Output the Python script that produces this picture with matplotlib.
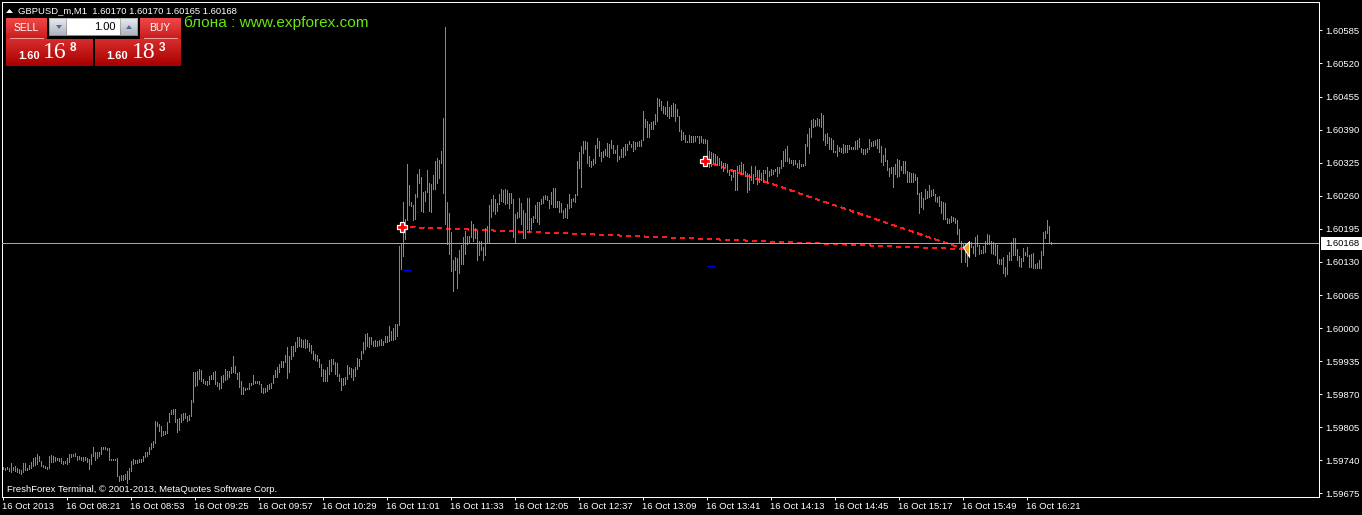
import numpy as np
import matplotlib
matplotlib.use("Agg")
import matplotlib.pyplot as plt
from matplotlib.patches import Rectangle, Polygon

# Minute bars as (high, low), in points above 1.59000
early_bars = [(727,723),(726,722),(728,723),(725,719),(735,718),(728,722),(730,720),(726,718),(724,716),(722,714),
(735,718),(734,722),(726,722),(731,723),(736,726),(744,730),(746,731),(752,733),(749,739),(739,730),
(731,728),(730,726),(728,723),(749,726),(750,736),(748,737),(746,739),(744,741),(744,739),(744,735),
(739,733),(738,734),(744,733),(752,736),(752,747),(752,748),(754,749),(749,741),(748,743),(746,741),
(746,739),(747,741),(744,736),(743,723),(752,733),(767,749),(757,741),(756,744),(757,748),(767,752),
(767,762),(766,762),(764,761),(764,741),(743,740),(742,740),(743,740),(744,710),(710,699),(711,702),
(711,702),(713,703),(720,695),(726,703),(738,720),(743,733),(741,735),(741,735),(743,736),(743,737),
(749,739),(756,746),(756,749),(766,752),(774,762),(779,766),(817,775),(816,808),(811,798),(808,788),
(798,790),(798,792),(815,794),(833,815),(840,831),(842,831),(842,815),(821,796),(824,800),(831,815),
(833,820),(833,824),(828,818),(829,820),(859,828),(914,855),(914,887),(916,888),(919,900),(917,897),
(900,892),(897,890),(897,888),(906,890),(908,900),(914,900),(916,890),(895,887),(893,881),(906,883),
(908,895),(919,898),(916,900),(916,903),(923,912),(946,913),(926,912),(912,900),(913,885),(897,870),
(885,870),(883,879),(883,880),(893,881),(893,888),(908,890),(897,892),(897,892),(897,890),(890,874),
(883,872),(883,875),(888,877),(890,880),(892,883),(908,892),(918,903),(923,903),(929,913),(936,923),
(936,923),(947,933),(963,901),(946,913),(965,939),(965,946),(972,955),(982,962),(982,965),(978,962),
(977,962),(978,960),(977,962),(971,955),(967,952),(955,939),(949,938),(947,936),(940,923),(929,905),
(919,897),(918,897),(923,897),(938,910),(939,916),(939,929),(933,910),(931,906),(910,897),(901,879),
(901,888),(903,890),(927,900),(923,910),(921,903),(919,898),(923,906),(942,919),(940,926),(955,939),
(972,952),(988,959),(991,965),(982,962),(982,969),(975,964),(977,964),(975,965),(977,967),(978,967),
(975,967),(984,972),(984,973),(1005,975),(995,977),(1001,977),(1008,978),(1008,985)]

middle_bars = [(1162,1007),(1165,1116),(1247,1141),(1214,1175),(1322,1213),(1281,1241),(1248,1240),(1241,1213),(1263,1215),(1302,1258),
(1312,1286),(1297,1230),(1268,1228),(1270,1249),(1310,1268),(1285,1230),(1283,1228),(1300,1273),(1328,1273),(1335,1285),
(1330,1294),(1348,1324),(1412,1265),(1591,1204),(1247,1165),(1226,1145),(1188,1112),(1133,1073),(1140,1114),(1138,1078),
(1153,1108),(1163,1126),(1179,1126),(1190,1145),(1181,1165),(1181,1167),(1210,1179),(1204,1171),(1196,1177),(1190,1133),
(1171,1143),(1171,1153),(1159,1133),(1196,1143),(1200,1167),(1241,1167),(1253,1218),(1261,1230),(1253,1224),(1245,1230),
(1263,1243),(1273,1249),(1271,1248),(1273,1243),(1271,1245),(1265,1236),(1265,1245),(1253,1179),(1224,1167),(1228,1216),
(1255,1218),(1245,1204),(1232,1177),(1226,1177),(1255,1194),(1255,1190),(1216,1194),(1220,1208),(1241,1216),(1247,1208),
(1247,1204),(1253,1243),(1259,1245),(1261,1253),(1259,1251),(1251,1236),(1267,1243),(1275,1238),(1275,1238),(1249,1238),
(1249,1228),(1245,1228),(1232,1216),(1236,1218),(1243,1216),(1263,1236),(1253,1238),(1255,1249),(1263,1247),(1328,1261),
(1346,1314),(1357,1277),(1367,1344),(1367,1351),(1365,1324),(1338,1318),(1328,1316),(1332,1320),(1359,1324),(1373,1353),
(1367,1338),(1346,1328),(1348,1336),(1352,1340),(1363,1338),(1361,1336),(1369,1353),(1359,1344),(1350,1344),(1359,1328),
(1338,1332),(1352,1336),(1355,1336),(1361,1340),(1361,1350),(1367,1361),(1361,1355),(1367,1348),(1365,1352),(1365,1357),
(1367,1357),(1369,1357),(1426,1369),(1410,1395),(1407,1375),(1401,1375),(1405,1391),(1407,1391),(1420,1401),(1452,1407),
(1450,1436),(1446,1428),(1436,1422),(1434,1420),(1446,1416),(1434,1412),(1438,1416),(1442,1416),(1440,1407),(1430,1416),
(1416,1387),(1389,1369),(1385,1371),(1379,1365),(1367,1365),(1379,1365),(1377,1365),(1377,1365),(1377,1367),(1377,1375),
(1377,1363),(1377,1365),(1371,1363),(1371,1363),(1369,1318),(1348,1316),(1346,1318),(1344,1324),(1342,1322),(1338,1320),
(1334,1320)]

late_bars = [(1328,1314),(1324,1308),(1324,1316),(1322,1306),(1310,1300),(1300,1292),(1310,1296),(1310,1271),(1318,1271),(1320,1308),
(1326,1302),(1322,1302),(1308,1298),(1304,1267),(1302,1271),(1318,1292),(1302,1286),(1318,1298),(1310,1284),(1310,1288),
(1304,1292),(1310,1288),(1310,1304),(1316,1288),(1308,1298),(1312,1300),(1310,1302),(1312,1308),(1316,1298),(1316,1304),
(1330,1314),(1349,1318),(1351,1328),(1357,1328),(1335,1324),(1331,1324),(1330,1320),(1330,1322),(1324,1316),(1330,1314),
(1322,1318),(1322,1318),(1361,1320),(1381,1357),(1394,1345),(1408,1375),(1410,1396),(1408,1398),(1412,1400),(1410,1398),
(1422,1396),(1418,1369),(1381,1359),(1383,1363),(1375,1351),(1373,1351),(1369,1347),(1349,1347),(1359,1339),(1355,1349),
(1353,1347),(1361,1345),(1359,1347),(1359,1347),(1359,1351),(1355,1351),(1355,1351),(1367,1351),(1369,1351),(1373,1355),
(1353,1347),(1351,1343),(1351,1343),(1353,1347),(1371,1351),(1365,1357),(1367,1357),(1369,1359),(1371,1353),(1371,1347),
(1357,1326),(1341,1320),(1353,1328),(1330,1310),(1314,1298),(1316,1304),(1316,1278),(1322,1302),(1333,1296),(1330,1298),
(1318,1310),(1328,1304),(1328,1304),(1308,1288),(1306,1288),(1304,1288),(1304,1288),(1302,1292),(1296,1263),(1265,1227),
(1267,1237),(1255,1235),(1273,1253),(1269,1255),(1282,1257),(1271,1259),(1273,1261),(1263,1249),(1257,1247),(1259,1239),
(1249,1227),(1247,1215),(1245,1215),(1217,1206),(1215,1206),(1221,1208),(1219,1210),(1217,1206),(1213,1184),(1194,1168),
(1172,1129),(1168,1159),(1166,1129),(1164,1123),(1172,1139),(1170,1160),(1162,1147),(1180,1141),(1182,1162),(1164,1145),
(1153,1147),(1162,1147),(1172,1149),(1184,1166),(1182,1166),(1172,1147),(1170,1145),(1166,1143),(1164,1127),(1135,1125),
(1135,1125),(1139,1109),(1121,1103),(1143,1107),(1149,1133),(1170,1133),(1178,1143),(1178,1143),(1155,1133),(1141,1123),
(1137,1121),(1157,1131),(1149,1143),(1159,1141),(1143,1121),(1145,1121),(1147,1119),(1125,1119),(1127,1119),(1133,1119),
(1151,1119),(1188,1143),(1190,1178),(1212,1186),(1200,1168),(1170,1165)]

price_ticks = ["1.60585","1.60520","1.60455","1.60390","1.60325","1.60260","1.60195","1.60130",
               "1.60065","1.60000","1.59935","1.59870","1.59805","1.59740","1.59675"]
time_labels = ["16 Oct 2013","16 Oct 08:21","16 Oct 08:53","16 Oct 09:25","16 Oct 09:57","16 Oct 10:29",
               "16 Oct 11:01","16 Oct 11:33","16 Oct 12:05","16 Oct 12:37","16 Oct 13:09","16 Oct 13:41",
               "16 Oct 14:13","16 Oct 14:45","16 Oct 15:17","16 Oct 15:49","16 Oct 16:21"]
bid_price = 1.60168
# Orders: open minute, open price, stop price, with a shared closing point
order_minutes = [199.5, 351]
order_prices = [1.60199, 1.60328]
stop_minutes = [201, 353]
stop_prices = [1.60114, 1.60122]
close_minute = 481
close_price = 1.60155

all_bars = early_bars + middle_bars + late_bars
highs = np.array([b[0] for b in all_bars]) / 1e5 + 1.59
lows = np.array([b[1] for b in all_bars]) / 1e5 + 1.59
minutes = np.arange(len(all_bars))

W, H = 1362, 515
FONT = "Liberation Sans"
TICK = 6.8
fig = plt.figure(figsize=(W / 100, H / 100), dpi=100, facecolor="black")
L, R, T, B = 1.5, 1318.5, 1.5, 496.5
ax = fig.add_axes([L / W, 1 - B / H, (R - L) / W, (B - T) / H], facecolor="black")
ax.set_xlim(-0.5, 658)
ax.set_ylim(1.596691, 1.606418)
for s in ax.spines.values():
    s.set_color("white")
    s.set_linewidth(0.72)

ax.vlines(minutes, lows, highs, color="#22d022", linewidth=0.5, antialiased=False, zorder=2)
ax.axhline(bid_price, color="#a8a8a8", linewidth=0.5, antialiased=False, zorder=3)

for m, p in zip(order_minutes, order_prices):
    ax.plot([m, close_minute], [p, close_price], color="#ff1a1a", linewidth=0.5,
            dashes=(5.8, 5.8), antialiased=False, zorder=1.5)
    ax.plot([m], [p], marker="P", ms=6.5, mfc="#ff0000", mec="white", mew=0.9, ls="none", zorder=5)
for m, p in zip(stop_minutes, stop_prices):
    ax.plot([m - 1, m + 2.5], [p, p], color="#0000ff", linewidth=0.7, solid_capstyle="butt",
            antialiased=False, zorder=4)
arrow = [(-0.4, 0.25), (0.4, 1), (0.4, -1), (-0.4, 0.25)]
ax.plot([close_minute + 0.5], [close_price], marker=arrow, ms=11, mfc="#e8a428", mec="white",
        mew=0.7, ls="none", zorder=6)

ax.yaxis.tick_right()
ax.set_yticks([float(t) for t in price_ticks])
ax.set_yticklabels(price_ticks)
ax.set_xticks(np.arange(len(time_labels)) * 32)
ax.set_xticklabels(time_labels, ha="left")
ax.tick_params(axis="y", colors="white", length=2.5, width=0.7, pad=2.5, labelsize=TICK)
ax.tick_params(axis="x", colors="white", length=2.5, width=0.7, pad=1.5, labelsize=TICK)
for lab in ax.get_xticklabels() + ax.get_yticklabels():
    lab.set_fontfamily(FONT)

# Pixel-space overlay for the terminal's interface elements
ui = fig.add_axes([0, 0, 1, 1], facecolor="none")
ui.set_xlim(0, W)
ui.set_ylim(H, 0)
ui.axis("off")


def gradient(x0, y0, x1, y1, top, bottom):
    c0 = np.array(matplotlib.colors.to_rgb(top))
    c1 = np.array(matplotlib.colors.to_rgb(bottom))
    t = np.linspace(0, 1, 32)[:, None, None]
    img = c0[None, None, :] * (1 - t) + c1[None, None, :] * t
    ui.imshow(img, extent=(x0, x1, y1, y0), aspect="auto", zorder=2, interpolation="bilinear")


gradient(6, 18, 47, 39, "#f04848", "#c81c1c")
gradient(140, 18, 181, 39, "#f04848", "#c81c1c")
gradient(6, 39, 93, 66, "#d82c2c", "#a80000")
gradient(95, 39, 181, 66, "#d82c2c", "#a80000")
ui.plot([10, 43], [38, 38], color="#f0a0a0", lw=0.7, zorder=3)
ui.plot([144, 177], [38, 38], color="#f0a0a0", lw=0.7, zorder=3)
gradient(49, 18, 138, 36, "#b8b8b8", "#8c8c8c")
ui.add_patch(Rectangle((67, 19), 53, 16, fc="white", ec="none", zorder=3))
gradient(50, 19, 66, 35, "#e4e8f0", "#b0b4c0")
gradient(121, 19, 137, 35, "#e4e8f0", "#b0b4c0")
ui.add_patch(Polygon([[56, 25], [62, 25], [59, 29]], fc="#5a6a90", ec="none", zorder=4))
ui.add_patch(Polygon([[126, 29], [132, 29], [129, 25]], fc="#5a6a90", ec="none", zorder=4))
ui.add_patch(Polygon([[6, 13], [13, 13], [9.5, 9]], fc="white", ec="none", zorder=4))

kw = dict(color="white", family=FONT, zorder=5)
ui.text(18, 10.5, "GBPUSD_m,M1  1.60170 1.60170 1.60165 1.60168", fontsize=6.8, va="center", ha="left", **kw)
ui.text(26, 28, "SELL", fontsize=7.5, va="center", ha="center", **kw)
ui.text(160, 28, "BUY", fontsize=7.5, va="center", ha="center", **kw)
ui.text(116, 27.5, "1.00", fontsize=8, va="center", ha="right", color="black", family=FONT, zorder=5)
ui.text(29, 56, "1.60", fontsize=8, fontweight="bold", va="center", ha="center", **kw)
ui.text(117, 56, "1.60", fontsize=8, fontweight="bold", va="center", ha="center", **kw)
ui.text(55, 52, "16", fontsize=17, va="center", ha="center", color="white", family="Liberation Serif", zorder=5)
ui.text(144, 52, "18", fontsize=17, va="center", ha="center", color="white", family="Liberation Serif", zorder=5)
ui.text(73, 48, "8", fontsize=8.5, fontweight="bold", va="center", ha="center", **kw)
ui.text(162, 48, "3", fontsize=8.5, fontweight="bold", va="center", ha="center", **kw)
ui.text(184, 22.5, "блона : www.expforex.com", fontsize=11.05, color="#66e810", family=FONT,
        va="center", ha="left", zorder=5)
ui.text(7, 490, "FreshForex Terminal, © 2001-2013, MetaQuotes Software Corp.", fontsize=6.8, va="center",
        ha="left", **kw)
ui.add_patch(Rectangle((1321, 237), 41, 12.5, fc="white", ec="none", zorder=4))
ui.text(1325, 243, "1.60168", fontsize=6.8, color="black", family=FONT, va="center", ha="left", zorder=5)

fig.savefig("out.png", dpi=100, facecolor="black")
